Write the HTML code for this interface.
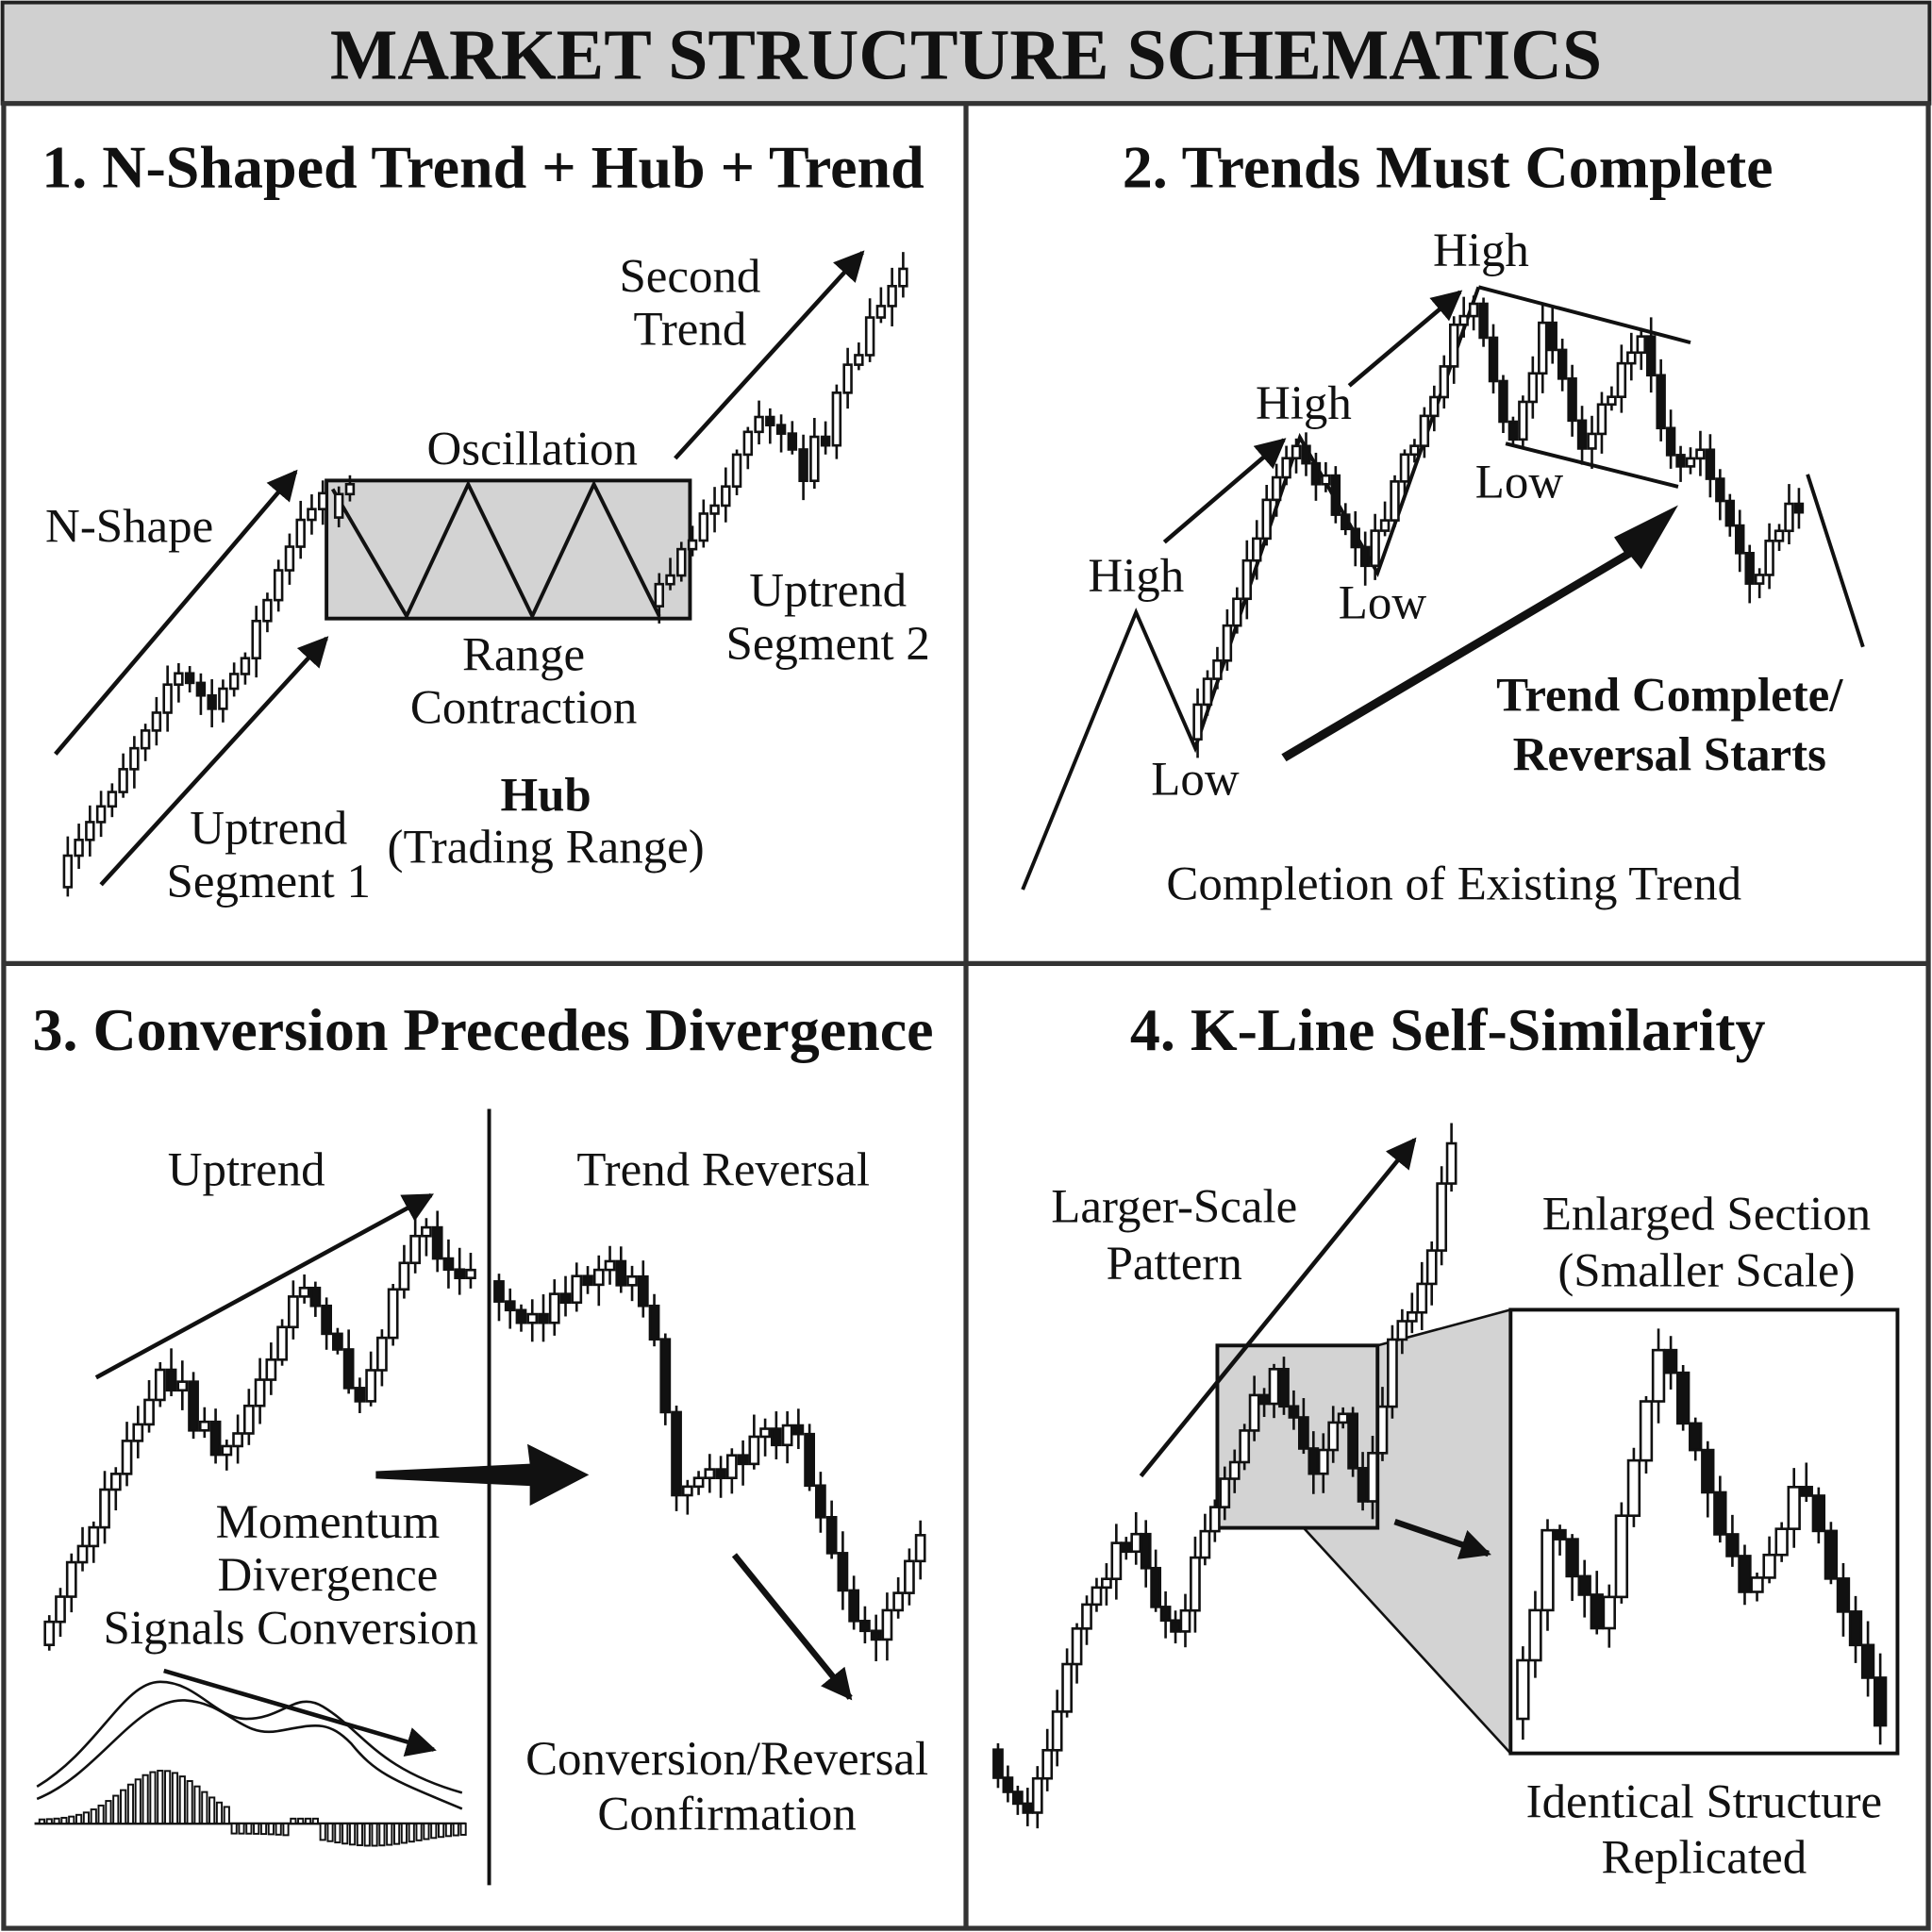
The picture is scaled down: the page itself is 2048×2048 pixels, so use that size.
<!DOCTYPE html>
<html><head><meta charset="utf-8"><style>
html,body{margin:0;padding:0;background:#fff}
svg{display:block}
text{font-family:"Liberation Serif",serif;fill:#111}
.h{font-weight:bold;font-size:49px}
.l{font-size:39px}
</style></head><body>
<svg id="s" width="2048" height="2048" viewBox="0 0 1568 1568" xmlns="http://www.w3.org/2000/svg">
<defs>
<marker id="a" viewBox="0 0 10 10" refX="9" refY="5" markerWidth="7" markerHeight="7" orient="auto"><path d="M0,0 L10,5 L0,10 z" fill="#111"/></marker>
<marker id="b" viewBox="0 0 10 10" refX="9" refY="5" markerWidth="5" markerHeight="5" orient="auto"><path d="M0,0 L10,5 L0,10 z" fill="#111"/></marker>
</defs>
<rect x="0" y="0" width="1568" height="1568" fill="#fff"/>
<rect x="2" y="2" width="1564" height="82" fill="#d0d0d0" stroke="#222" stroke-width="3"/>
<text x="784" y="64" text-anchor="middle" style="font-weight:bold;font-size:58px">MARKET STRUCTURE SCHEMATICS</text>
<rect x="3" y="84" width="1562" height="1481" fill="none" stroke="#333" stroke-width="4"/>
<line x1="784" y1="84" x2="784" y2="1566" stroke="#333" stroke-width="4"/>
<line x1="3" y1="782" x2="1565" y2="782" stroke="#333" stroke-width="4"/>
<!-- Panel 1 -->
<text class="h" x="392" y="152" text-anchor="middle">1. N-Shaped Trend + Hub + Trend</text>
<rect x="265" y="390" width="295" height="112" fill="#d3d3d3" stroke="#111" stroke-width="3"/>
<polyline points="270,397 330,500 380,393 432,500 482,393 535,500" fill="none" stroke="#111" stroke-width="3"/>
<line x1="45" y1="612" x2="240" y2="383" stroke="#111" stroke-width="3.5" marker-end="url(#a)"/>
<line x1="82" y1="718" x2="265" y2="518" stroke="#111" stroke-width="3.5" marker-end="url(#a)"/>
<line x1="548" y1="372" x2="700" y2="205" stroke="#111" stroke-width="3.5" marker-end="url(#a)"/>
<text class="l" x="105" y="440" text-anchor="middle">N-Shape</text>
<text class="l" x="432" y="377" text-anchor="middle">Oscillation</text>
<text class="l" x="425" y="544" text-anchor="middle">Range</text>
<text class="l" x="425" y="587" text-anchor="middle">Contraction</text>
<text class="l" x="443" y="658" text-anchor="middle" font-weight="bold">Hub</text>
<text class="l" x="443" y="700" text-anchor="middle">(Trading Range)</text>
<text class="l" x="218" y="685" text-anchor="middle">Uptrend</text>
<text class="l" x="218" y="728" text-anchor="middle">Segment 1</text>
<text class="l" x="560" y="237" text-anchor="middle">Second</text>
<text class="l" x="560" y="280" text-anchor="middle">Trend</text>
<text class="l" x="672" y="492" text-anchor="middle">Uptrend</text>
<text class="l" x="672" y="535" text-anchor="middle">Segment 2</text>
<!-- Panel 2 -->
<text class="h" x="1175" y="152" text-anchor="middle">2. Trends Must Complete</text>
<polyline points="830,722 922,497 970,607 1055,355 1118,465 1200,233" fill="none" stroke="#111" stroke-width="3"/>
<line x1="1200" y1="233" x2="1372" y2="278" stroke="#111" stroke-width="3"/>
<line x1="1222" y1="360" x2="1362" y2="395" stroke="#111" stroke-width="3"/>
<line x1="1467" y1="385" x2="1512" y2="525" stroke="#111" stroke-width="3"/>
<line x1="945" y1="440" x2="1042" y2="357" stroke="#111" stroke-width="3.5" marker-end="url(#a)"/>
<line x1="1095" y1="313" x2="1185" y2="237" stroke="#111" stroke-width="3.5" marker-end="url(#a)"/>
<polygon points="1040,612 1318,448 1310,436 1362,410 1332,462 1324,452 1044,618" fill="#111"/>
<text class="l" x="922" y="480" text-anchor="middle" font-size="34">High</text>
<text class="l" x="1058" y="340" text-anchor="middle">High</text>
<text class="l" x="1202" y="216" text-anchor="middle">High</text>
<text class="l" x="970" y="645" text-anchor="middle">Low</text>
<text class="l" x="1122" y="502" text-anchor="middle">Low</text>
<text class="l" x="1233" y="404" text-anchor="middle">Low</text>
<text class="l" x="1355" y="577" text-anchor="middle" font-weight="bold" font-size="42">Trend Complete/</text>
<text class="l" x="1355" y="625" text-anchor="middle" font-weight="bold" font-size="42">Reversal Starts</text>
<text class="l" x="1180" y="730" text-anchor="middle" font-size="44">Completion of Existing Trend</text>
<!-- Panel 3 -->
<text class="h" x="392" y="852" text-anchor="middle">3. Conversion Precedes Divergence</text>
<line x1="397" y1="900" x2="397" y2="1530" stroke="#111" stroke-width="3"/>
<line x1="78" y1="1118" x2="350" y2="970" stroke="#111" stroke-width="3.5" marker-end="url(#a)"/>
<polygon points="305,1194 430,1188 428,1172 478,1197 430,1222 430,1206 305,1200" fill="#111"/>
<line x1="596" y1="1262" x2="690" y2="1378" stroke="#111" stroke-width="5" marker-end="url(#b)"/>
<line x1="133" y1="1356" x2="352" y2="1420" stroke="#111" stroke-width="3.5" marker-end="url(#a)"/>
<path d="M30,1450 C80,1420 100,1365 130,1365 C160,1365 175,1395 200,1395 C230,1395 240,1372 262,1385 C295,1405 305,1435 375,1455" fill="none" stroke="#111" stroke-width="2"/>
<path d="M30,1460 C80,1440 110,1378 150,1380 C185,1382 195,1410 225,1405 C255,1400 265,1395 285,1415 C305,1440 320,1445 375,1468" fill="none" stroke="#111" stroke-width="2"/>
<line x1="28" y1="1480" x2="378" y2="1480" stroke="#111" stroke-width="2"/>
<g id="hist" fill="#fff" stroke="#111" stroke-width="1.5"></g>
<text class="l" x="200" y="962" text-anchor="middle" font-size="42">Uptrend</text>
<text class="l" x="587" y="962" text-anchor="middle" font-size="42">Trend Reversal</text>
<text class="l" x="266" y="1248" text-anchor="middle">Momentum</text>
<text class="l" x="266" y="1291" text-anchor="middle">Divergence</text>
<text class="l" x="236" y="1334" text-anchor="middle">Signals Conversion</text>
<text class="l" x="590" y="1440" text-anchor="middle" font-size="42">Conversion/Reversal</text>
<text class="l" x="590" y="1485" text-anchor="middle" font-size="42">Confirmation</text>
<!-- Panel 4 -->
<text class="h" x="1175" y="852" text-anchor="middle">4. K-Line Self-Similarity</text>
<polygon points="1118,1092 1226,1063 1226,1423 1058,1240 1118,1240" fill="#d3d3d3"/>
<line x1="1118" y1="1092" x2="1226" y2="1063" stroke="#111" stroke-width="2"/>
<line x1="1058" y1="1240" x2="1226" y2="1423" stroke="#111" stroke-width="2"/>
<rect x="988" y="1092" width="130" height="148" fill="#d3d3d3" stroke="#111" stroke-width="3"/>
<rect x="1226" y="1063" width="314" height="360" fill="#fff" stroke="#111" stroke-width="3"/>
<text class="l" x="953" y="992" text-anchor="middle" font-size="42">Larger-Scale</text>
<text class="l" x="953" y="1038" text-anchor="middle" font-size="42">Pattern</text>
<text class="l" x="1385" y="998" text-anchor="middle" font-size="42">Enlarged Section</text>
<text class="l" x="1385" y="1044" text-anchor="middle" font-size="42">(Smaller Scale)</text>
<text class="l" x="1383" y="1475" text-anchor="middle" font-size="42">Identical Structure</text>
<text class="l" x="1383" y="1520" text-anchor="middle" font-size="42">Replicated</text>
<g id="c" stroke="#111" stroke-width="2"></g>
<line x1="926" y1="1198" x2="1148" y2="925" stroke="#111" stroke-width="3.5" marker-end="url(#a)"/>
<line x1="1132" y1="1235" x2="1208" y2="1261" stroke="#111" stroke-width="5" marker-end="url(#b)"/>
</svg>
<script>
var seed=7;function r(){seed=(seed*16807)%2147483647;return seed/2147483647;}
var g=document.getElementById('c');var NS='http://www.w3.org/2000/svg';
function el(t,a,p){var e=document.createElementNS(NS,t);for(var k in a)e.setAttribute(k,a[k]);(p||g).appendChild(e);return e;}
function interp(pts,x){for(var i=0;i<pts.length-1;i++){if(x<=pts[i+1][0]){var t=(x-pts[i][0])/(pts[i+1][0]-pts[i][0]);return pts[i][1]+t*(pts[i+1][1]-pts[i][1]);}}return pts[pts.length-1][1];}
function series(pts,step,w,amp){var x0=pts[0][0],x1=pts[pts.length-1][0];var prev=interp(pts,x0);
for(var x=x0;x<=x1;x+=step){var y=interp(pts,x+step)+(r()-0.5)*amp;var o=prev,c=y;if(Math.abs(o-c)<6){c=o+(r()<0.5?-7:7);}var top=Math.min(o,c),bot=Math.max(o,c);
el('line',{x1:x,y1:top-4-r()*amp*0.7,x2:x,y2:bot+4+r()*amp*0.7});
el('rect',{x:x-w/2,y:top,width:w,height:bot-top,fill:(c<o?'#fff':'#111')});prev=c;}}
series([[55,720],[150,545],[185,578],[265,400]],9,6,18);
series([[275,420],[285,395]],9,6,8);
series([[535,492],[630,335],[660,385],[740,210]],9,6,18);
series([[972,600],[1055,355],[1118,455],[1200,240],[1236,360],[1262,255],[1290,365],[1338,270],[1362,370],[1390,375],[1430,485],[1460,405]],8,6,18);
series([[40,1335],[140,1105],[190,1195],[250,1040],[300,1135],[345,995],[385,1035]],9,7,20);
series([[405,1040],[440,1075],[490,1025],[535,1055],[560,1230],[605,1175],[655,1160],[700,1310],[720,1330],[755,1255]],9,7,20);
series([[810,1420],[840,1480],[880,1330],[925,1240],[960,1340],[990,1225],[1040,1105],[1070,1195],[1095,1150],[1115,1225],[1140,1080],[1165,1040],[1182,925]],8,7,20);
series([[1236,1395],[1270,1235],[1310,1320],[1355,1095],[1390,1190],[1430,1305],[1470,1190],[1500,1300],[1535,1395]],10,9,24);
var h=document.getElementById('hist');
for(var x=32;x<376;x+=6){var v;if(x<185){v=40*Math.exp(-Math.pow((x-130)/45,2))+3;}else{v=-(8+10*Math.exp(-Math.pow((x-300)/50,2)));if(x>230&&x<255)v=4;}
el('rect',{x:x,y:v>0?1480-v:1480,width:4,height:Math.abs(v)},h);}
</script>
</body></html>
